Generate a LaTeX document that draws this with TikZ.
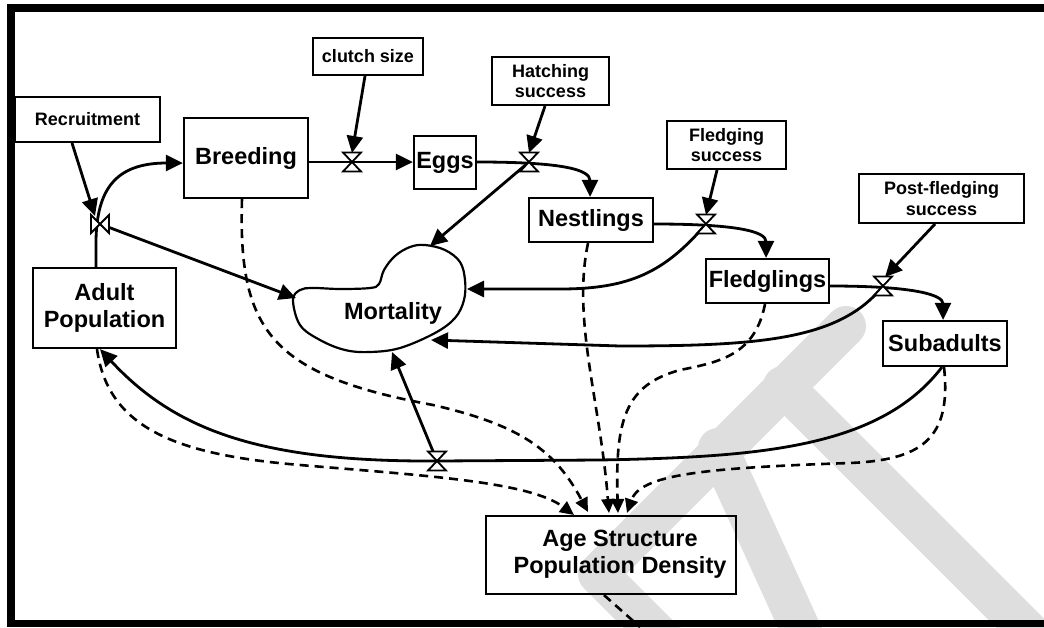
\documentclass[tikz,border=0pt]{standalone}
\usepackage{fontspec}
\setmainfont{Liberation Sans}
\usetikzlibrary{arrows.meta,calc}
\definecolor{wm}{HTML}{DEDEDE}
\begin{document}
\begin{tikzpicture}[x=1pt,y=-1pt,
  box/.style={draw, line width=2.2pt, inner sep=0pt, align=center, font=\bfseries\fontsize{23.5}{26.5}\selectfont},
  lbl/.style={box, line width=2pt, font=\bfseries\fontsize{18}{20.5}\selectfont},
  flow/.style={line width=2.8pt, -{Triangle[length=17pt,width=16pt]}},
  infl/.style={line width=2.6pt, dash pattern=on 9pt off 6pt, -{Triangle[length=14pt,width=13pt]}},
  valve/.style={draw, line width=1.8pt, fill=white, line join=miter}
]
\useasboundingbox (0,0) rectangle (1044,627);
% watermark
\begin{scope}[wm, line width=40pt, line cap=round, line join=round]
  \draw (846,326) -- (598,574) -- (690,666);
  \draw (783,386) -- (1060,663);
  \draw (718,448) -- (810,650);
\end{scope}
% frame
\fill[black] (7,4) rectangle (1044,12);
\fill[black] (7,4) rectangle (15,627);
\fill[black] (7,620) rectangle (1044,627);

% boxes
\node[lbl, minimum width=145pt, minimum height=45pt] (rec) at (87.5,119.5) {Recruitment};
\node[lbl, minimum width=110pt, minimum height=37pt] (clutch) at (368,56.5) {clutch size};
\node[box, minimum width=124pt, minimum height=80pt] (breed) at (246,158) {Breeding};
\node[box, minimum width=62pt, minimum height=53pt] (eggs) at (445,162.5) {Eggs};
\node[lbl, minimum width=117pt, minimum height=48pt] (hatch) at (550.5,81) {Hatching\\success};
\node[box, minimum width=124pt, minimum height=44pt] (nest) at (591,220) {Nestlings};
\node[lbl, minimum width=119pt, minimum height=48pt] (fsucc) at (726.5,145) {Fledging\\success};
\node[lbl, minimum width=165pt, minimum height=49pt] (pfs) at (941.5,198.5) {Post-fledging\\success};
\node[box, minimum width=123pt, minimum height=44pt] (fled) at (767.5,281) {Fledglings};
\node[box, minimum width=124pt, minimum height=45pt] (sub) at (945,343.5) {Subadults};
\node[box, minimum width=143pt, minimum height=80pt] (adult) at (104.5,308) {Adult\\Population};
\node[box, minimum width=250pt, minimum height=78pt] (age) at (611,555) {};
\node[font=\bfseries\fontsize{23.5}{26.5}\selectfont, align=center, inner sep=0pt] (agetxt) at (620,554) {Age Structure\\Population Density};

% mortality cloud
\draw[line width=2.2pt] plot[smooth cycle, tension=0.6] coordinates {
 (293,300) (300,290) (313,288) (340,289) (370,288) (379,284) (384,270) (395,256)
 (410,247) (425,245) (445,250) (460,262) (465,280) (464,300) (455,318) (435,333)
 (400,348) (370,352) (345,350) (320,340) (300,325)};
\node[font=\bfseries\fontsize{23.5}{26}\selectfont] (mort) at (393,313) {Mortality};
\coordinate (mT) at (430,246);
\coordinate (mL) at (296,298);
\coordinate (mR) at (467,289);
\coordinate (mBR) at (431,340);
\coordinate (mB) at (392,352);

% valves (positions)
\coordinate (vr) at (100,224);
\coordinate (vc) at (352,162);
\coordinate (vh) at (529,162);
\coordinate (vf) at (706,224);
\coordinate (vp) at (883,286);
\coordinate (vb) at (437,461);

% flows
\draw[flow] (adult.north -| 96,0) -- (96,240) .. controls (97,190) and (115,163) .. (breed.west |- 0,163);
\draw[flow] (breed.east |- vc) -- (eggs.west |- vc);
\draw[flow] (eggs.east |- vh) .. controls (565,162) and (590,170) .. (nest.north -| 590,0);
\draw[flow] (nest.east |- vf) .. controls (740,224) and (766,232) .. (fled.north -| 766,0);
\draw[flow] (fled.east |- vp) .. controls (915,286) and (943,295) .. (sub.north -| 943,0);
\draw[flow] (sub.south -| 942,0) .. controls (880,448) and (760,457) .. (600,460) -- (vb) .. controls (260,462) and (175,430) .. (adult.south -| 100,0);

% to mortality
\draw[flow] (vr) -- (mL);
\draw[flow] (vh) -- (mT);
\draw[flow] (vf) .. controls (665,272) and (630,289) .. (560,289) -- (mR);
\draw[flow] (vp) .. controls (840,340) and (760,346) .. (620,346) -- (mBR);
\draw[flow] (vb) -- (mB);

% info arrows
\draw[flow] (rec.south -| 72,0) -- ($(vr)+(-5,-8)$);
\draw[flow] (clutch.south -| 365,0) -- ($(vc)+(0,-9)$);
\draw[flow] (hatch.south -| 545,0) -- ($(vh)+(0,-9)$);
\draw[flow] (fsucc.south -| 717,0) -- ($(vf)+(0,-9)$);
\draw[flow] (pfs.south -| 935,0) -- ($(vp)+(2,-9)$);

% valves drawn
\draw[valve] (vc) +(-9,-9.5) -- +(9,-9.5) -- +(-9,9.5) -- +(9,9.5) -- cycle;
\draw[valve] (vh) +(-9,-9.5) -- +(9,-9.5) -- +(-9,9.5) -- +(9,9.5) -- cycle;
\draw[valve] (vf) +(-9,-9.5) -- +(9,-9.5) -- +(-9,9.5) -- +(9,9.5) -- cycle;
\draw[valve] (vp) +(-9,-9.5) -- +(9,-9.5) -- +(-9,9.5) -- +(9,9.5) -- cycle;
\draw[valve] (vb) +(-9,-9.5) -- +(9,-9.5) -- +(-9,9.5) -- +(9,9.5) -- cycle;
\draw[valve] (vr) +(-9,-9) -- +(-9,9) -- +(9,-9) -- +(9,9) -- cycle;

% influences
\draw[infl] (breed.south -| 242,0) .. controls (238,330) and (270,375) .. (433,405) .. controls (520,425) and (555,450) .. (588,512);
\draw[infl] (adult.south -| 97,0) .. controls (108,430) and (180,455) .. (300,465) .. controls (430,476) and (530,482) .. (574,515);
\draw[infl] (nest.south -| 588,0) .. controls (572,320) and (600,400) .. (609,513);
\draw[infl] (fled.south -| 765,0) .. controls (755,355) and (720,362) .. (680,370) .. controls (625,385) and (615,420) .. (618,513);
\draw[infl] (sub.south -| 944,0) .. controls (952,440) and (920,460) .. (850,463) .. controls (700,468) and (640,475) .. (627,513);
\draw[line width=2.6pt, dash pattern=on 9pt off 6pt] (age.south -| 604,0) -- (640,627);
\end{tikzpicture}
\end{document}
